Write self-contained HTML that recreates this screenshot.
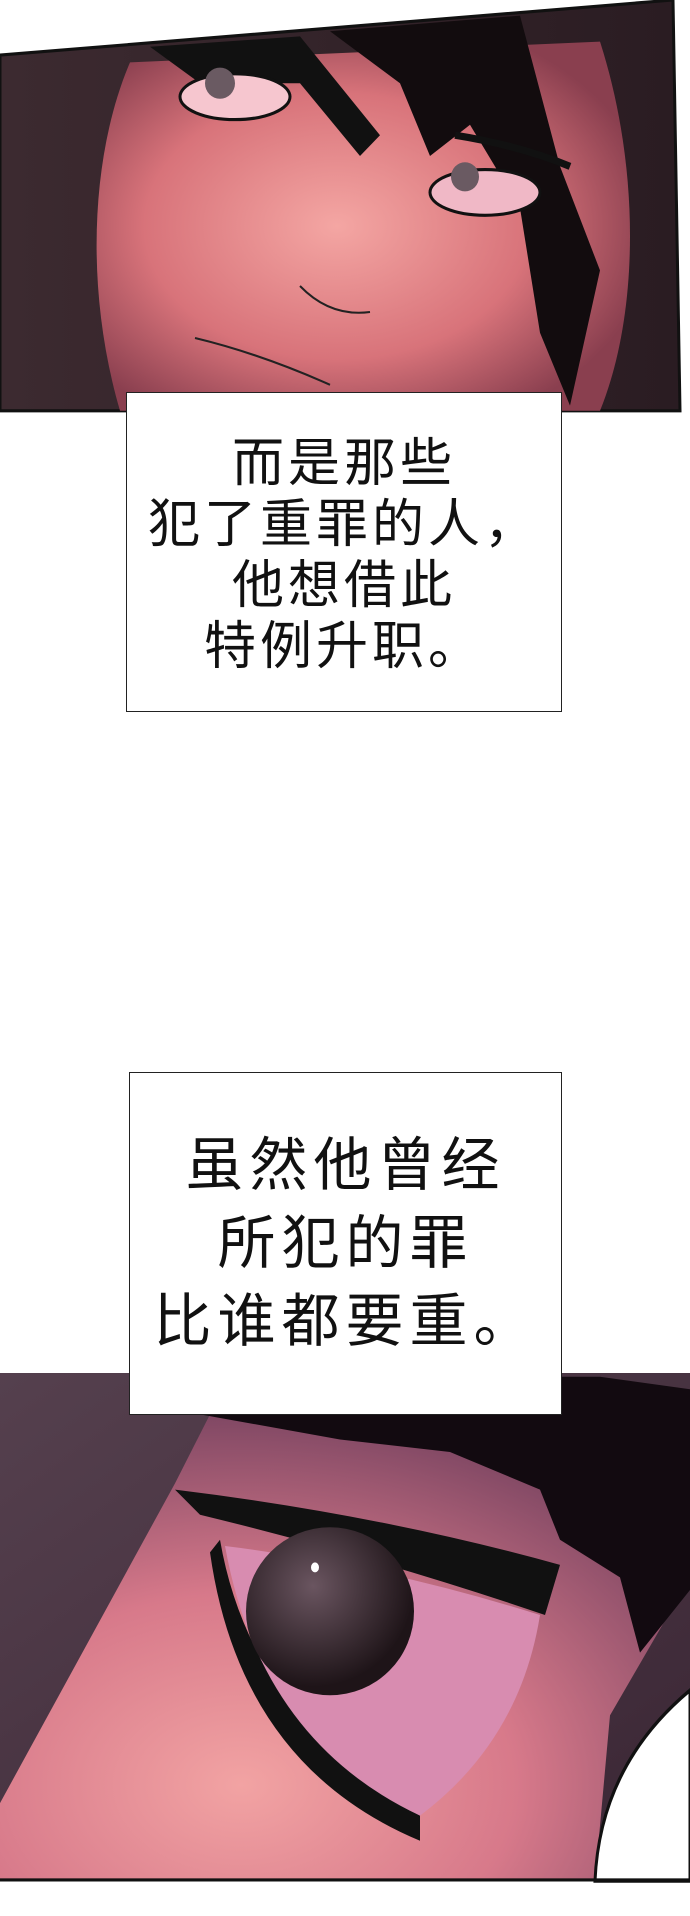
<!DOCTYPE html>
<html><head><meta charset="utf-8"><style>
html,body{margin:0;padding:0;background:#fff;}
#c{position:relative;width:690px;height:1916px;overflow:hidden;background:#fff;}
svg{position:absolute;left:0;top:0;}
.box{position:absolute;background:#fff;border:1.5px solid #222;box-sizing:border-box;text-align:center;color:#111;font-family:"Liberation Sans","Noto Sans CJK SC",sans-serif;}
</style></head><body><div id="c">
<svg width="690" height="1916" viewBox="0 0 690 1916">
<defs>
<radialGradient id="f1" cx="0.45" cy="0.5" r="0.6"><stop offset="0" stop-color="#f4a6a3"/><stop offset="0.6" stop-color="#d8737a"/><stop offset="1" stop-color="#8a3f4f"/></radialGradient>
<linearGradient id="bg1" x1="0" y1="0" x2="1" y2="0"><stop offset="0" stop-color="#3c2a30"/><stop offset="1" stop-color="#2a1c22"/></linearGradient>
<linearGradient id="bg2" x1="0" y1="0" x2="1" y2="1"><stop offset="0" stop-color="#55404e"/><stop offset="1" stop-color="#3a2634"/></linearGradient>
<radialGradient id="f2" cx="0.35" cy="0.8" r="0.8"><stop offset="0" stop-color="#f2a3a3"/><stop offset="0.5" stop-color="#d7798a"/><stop offset="1" stop-color="#7a4461"/></radialGradient>
<radialGradient id="eye" cx="0.4" cy="0.35" r="0.6"><stop offset="0" stop-color="#6a5560"/><stop offset="1" stop-color="#1e1418"/></radialGradient>
</defs>
<g transform="scale(1,1.04)">
<polygon points="0,53 673,0 680,395 0,395" fill="url(#bg1)" stroke="#111" stroke-width="3"/>
<path d="M130,60 C90,150 85,280 120,395 L600,395 C640,300 640,160 600,40 Z" fill="url(#f1)"/>
<path d="M150,45 L300,35 L380,130 L360,150 L300,80 L200,80 Z" fill="#111"/>
<path d="M330,30 L520,15 L560,160 L600,260 L570,390 L540,320 L520,200 L470,120 L430,150 L400,80 Z" fill="#120c0e"/>
<ellipse cx="235" cy="93" rx="55" ry="22" fill="#f6c6cf" stroke="#111" stroke-width="3"/>
<circle cx="220" cy="80" r="15" fill="#6a5a62"/>
<ellipse cx="485" cy="185" rx="55" ry="22" fill="#f0b8c6" stroke="#111" stroke-width="3"/>
<circle cx="465" cy="170" r="14" fill="#6a5a62"/>
<path d="M455,130 Q520,140 570,160" stroke="#111" stroke-width="7" fill="none"/>
<path d="M195,325 Q260,340 330,370" stroke="#222" stroke-width="2" fill="none"/>
<path d="M300,275 Q330,305 370,300" stroke="#222" stroke-width="2" fill="none"/>
</g>
<g transform="translate(0,1373) scale(1,1.254) translate(0,-1307)">
<rect x="0" y="1307" width="690" height="405" fill="url(#bg2)"/>
<path d="M0,1650 L175,1395 L210,1340 L560,1330 L690,1360 L690,1470 L610,1580 L595,1712 L0,1712 Z" fill="url(#f2)"/>
<path d="M200,1340 L330,1310 L600,1310 L690,1320 L690,1480 L640,1530 L620,1470 L560,1440 L540,1400 L450,1370 L340,1360 Z" fill="#120a10"/>
<path d="M175,1400 Q380,1420 560,1460 L545,1500 Q380,1455 200,1420 Z" fill="#111"/>
<path d="M220,1440 Q250,1580 420,1660 L420,1680 Q240,1620 210,1450 Z" fill="#111"/>
<path d="M225,1445 Q380,1460 540,1500 Q520,1600 420,1660 Q260,1600 225,1445 Z" fill="#d88cb0"/>
<ellipse cx="330" cy="1497" rx="84" ry="67" fill="url(#eye)"/>
<circle cx="315" cy="1462" r="4" fill="#fff"/>
<path d="M690,1560 Q600,1620 595,1712 L690,1712 Z" fill="#fff" stroke="#111" stroke-width="3"/>
<rect x="0" y="1710" width="690" height="2.5" fill="#111"/>
</g>
</svg>
<div class="box" style="left:126px;top:392px;width:436px;height:320px;padding-top:41px;font-size:52px;line-height:61px;letter-spacing:4px;">而是那些<br>犯了重罪的人，<br>他想借此<br>特例升职。</div>
<div class="box" style="left:129px;top:1072px;width:433px;height:343px;padding-top:54px;font-size:58px;line-height:78px;letter-spacing:6px;">虽然他曾经<br>所犯的罪<br>比谁都要重。</div>
</div></body></html>
